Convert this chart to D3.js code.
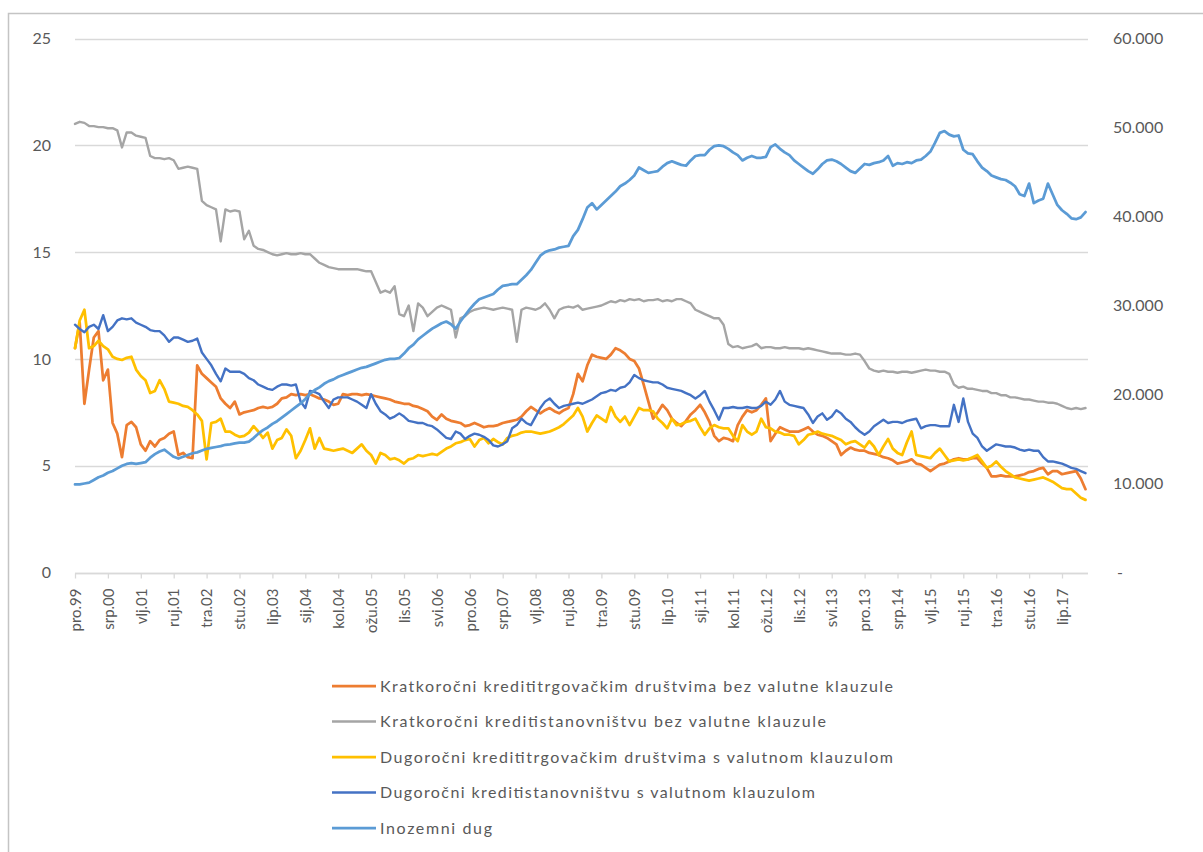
<!DOCTYPE html>
<html>
<head>
<meta charset="utf-8">
<script src="https://cdn.jsdelivr.net/npm/d3@7"></script>
<style>
body { margin: 0; background: #fff; }
svg text { font-family: Lato, "Open Sans", sans-serif; fill: #595959; }
</style>
</head>
<body>
<svg id="chart" width="1203" height="852"></svg>
<script>
// mjeseci (x os), prvi podatak pro.99, zadnji stu.17
var monthAbbr = ["sij", "vlj", "ožu", "tra", "svi", "lip", "srp", "kol", "ruj", "lis", "stu", "pro"];
var startYear = 1999, startMonth = 11, monthCount = 216, tickStep = 7;

var seriesNames = [
    "Kratkoročni kredititrgovačkim društvima bez valutne klauzule",
    "Kratkoročni kreditistanovništvu bez valutne klauzule",
    "Dugoročni kredititrgovačkim društvima s valutnom klauzulom",
    "Dugoročni kreditistanovništvu s valutnom klauzulom",
    "Inozemni dug"
];
var seriesColors = ["#ED7D31", "#A5A5A5", "#FFC000", "#4472C4", "#5B9BD5"];

var kratkoTrg = [
    10.5, 11.7, 7.9, 9.5, 11.0, 11.3, 9.0, 9.5, 7.0, 6.5,
    5.4, 6.9, 7.05, 6.8, 6.0, 5.7, 6.15, 5.9, 6.2, 6.3,
    6.5, 6.6, 5.5, 5.6, 5.4, 5.35, 9.7, 9.3, 9.1, 8.9,
    8.7, 8.15, 7.9, 7.7, 8.0, 7.4, 7.5, 7.55, 7.6, 7.7,
    7.75, 7.7, 7.75, 7.9, 8.15, 8.2, 8.35, 8.3, 8.35, 8.3,
    8.35, 8.25, 8.15, 8.1, 8.0, 7.85, 7.9, 8.35, 8.3, 8.35,
    8.35, 8.3, 8.35, 8.3, 8.25, 8.2, 8.15, 8.1, 8.0, 7.95,
    7.9, 7.9, 7.8, 7.75, 7.65, 7.55, 7.3, 7.15, 7.4, 7.2,
    7.1, 7.05, 7.0, 6.85, 6.9, 7.0, 6.9, 6.8, 6.85, 6.85,
    6.9, 7.0, 7.05, 7.1, 7.15, 7.3, 7.55, 7.75, 7.6, 7.45,
    7.6, 7.7, 7.55, 7.45, 7.6, 7.7, 8.35, 9.3, 8.95, 9.7,
    10.2, 10.1, 10.05, 10.0, 10.2, 10.5, 10.4, 10.25, 10.0, 9.9,
    9.55, 8.8, 8.0, 7.2, 7.5, 7.85, 7.6, 7.2, 7.0, 6.85,
    7.1, 7.4, 7.6, 7.85, 7.5, 7.05, 6.4, 6.15, 6.3, 6.25,
    6.15, 6.9, 7.3, 7.6, 7.5, 7.6, 7.85, 8.15, 6.15, 6.5,
    6.8, 6.7, 6.6, 6.6, 6.6, 6.7, 6.8, 6.6, 6.45, 6.4,
    6.3, 6.15, 6.0, 5.5, 5.7, 5.85, 5.75, 5.7, 5.7, 5.6,
    5.55, 5.5, 5.4, 5.35, 5.25, 5.1, 5.15, 5.2, 5.3, 5.1,
    5.05, 4.9, 4.75, 4.9, 5.05, 5.1, 5.2, 5.3, 5.35, 5.3,
    5.3, 5.35, 5.35, 5.1, 4.9, 4.5, 4.5, 4.55, 4.5, 4.5,
    4.5, 4.55, 4.6, 4.7, 4.75, 4.85, 4.9, 4.6, 4.75, 4.75,
    4.6, 4.65, 4.7, 4.75, 4.4, 3.9
];

var kratkoStan = [
    21.0, 21.1, 21.05, 20.9, 20.9, 20.85, 20.85, 20.8, 20.8, 20.7,
    19.9, 20.6, 20.6, 20.45, 20.4, 20.35, 19.5, 19.4, 19.4, 19.35,
    19.4, 19.3, 18.9, 18.95, 19.0, 18.95, 18.9, 17.4, 17.2, 17.1,
    17.0, 15.5, 17.0, 16.9, 16.95, 16.9, 15.6, 16.0, 15.3, 15.15,
    15.1, 15.0, 14.9, 14.85, 14.9, 14.95, 14.9, 14.9, 14.95, 14.9,
    14.9, 14.7, 14.5, 14.4, 14.3, 14.25, 14.2, 14.2, 14.2, 14.2,
    14.2, 14.15, 14.1, 14.1, 13.6, 13.1, 13.2, 13.1, 13.4, 12.1,
    12.0, 12.5, 11.3, 12.6, 12.4, 12.0, 12.2, 12.4, 12.5, 12.4,
    12.3, 11.0, 11.9, 12.0, 12.2, 12.3, 12.35, 12.4, 12.35, 12.3,
    12.35, 12.4, 12.35, 12.3, 10.8, 12.3, 12.4, 12.35, 12.3, 12.4,
    12.6, 12.3, 11.9, 12.3, 12.4, 12.45, 12.4, 12.5, 12.3, 12.35,
    12.4, 12.45, 12.5, 12.6, 12.7, 12.65, 12.75, 12.7, 12.8, 12.75,
    12.8, 12.7, 12.75, 12.75, 12.8, 12.7, 12.75, 12.7, 12.8, 12.8,
    12.7, 12.6, 12.3, 12.2, 12.1, 12.0, 11.9, 11.9, 11.6, 10.7,
    10.55, 10.6, 10.5, 10.55, 10.6, 10.7, 10.5, 10.55, 10.55, 10.5,
    10.5, 10.55, 10.5, 10.5, 10.5, 10.45, 10.5, 10.45, 10.4, 10.35,
    10.3, 10.25, 10.25, 10.25, 10.2, 10.2, 10.25, 10.2, 9.9, 9.55,
    9.45, 9.4, 9.45, 9.4, 9.4, 9.35, 9.4, 9.4, 9.35, 9.4,
    9.45, 9.5, 9.45, 9.45, 9.4, 9.4, 9.3, 8.8, 8.65, 8.7,
    8.6, 8.6, 8.55, 8.5, 8.5, 8.4, 8.4, 8.3, 8.3, 8.2,
    8.2, 8.15, 8.1, 8.1, 8.05, 8.0, 8.0, 7.95, 7.95, 7.9,
    7.8, 7.7, 7.65, 7.7, 7.65, 7.7
];

var dugoTrg = [
    10.5, 11.8, 12.3, 10.5, 10.6, 10.85, 10.6, 10.45, 10.1, 10.0,
    9.95, 10.05, 10.1, 9.5, 9.2, 9.0, 8.4, 8.5, 9.0, 8.6,
    8.0, 7.95, 7.9, 7.8, 7.75, 7.6, 7.4, 7.1, 5.3, 7.0,
    7.05, 7.2, 6.6, 6.6, 6.45, 6.35, 6.4, 6.55, 6.85, 6.6,
    6.3, 6.55, 5.8, 6.2, 6.3, 6.7, 6.4, 5.35, 5.7, 6.2,
    6.75, 5.8, 6.3, 5.8, 5.75, 5.7, 5.75, 5.8, 5.7, 5.6,
    5.8, 6.0, 5.7, 5.5, 5.1, 5.6, 5.5, 5.3, 5.35, 5.25,
    5.1, 5.3, 5.35, 5.5, 5.45, 5.5, 5.55, 5.5, 5.65, 5.8,
    5.9, 6.05, 6.1, 6.2, 6.25, 5.9, 6.2, 6.3, 6.05, 6.25,
    6.1, 6.0, 6.3, 6.4, 6.45, 6.55, 6.6, 6.6, 6.55, 6.5,
    6.55, 6.6, 6.7, 6.8, 6.95, 7.15, 7.35, 7.7, 7.3, 6.6,
    7.0, 7.35, 7.2, 7.05, 7.75, 7.3, 7.05, 7.3, 6.9, 7.3,
    7.7, 7.6, 7.6, 7.55, 7.2, 7.0, 6.75, 7.2, 6.9, 6.95,
    7.05, 7.1, 7.2, 6.8, 6.45, 6.75, 6.9, 6.8, 6.75, 6.75,
    6.4, 6.15, 6.9, 6.6, 6.45, 6.6, 7.2, 6.8, 6.75, 6.6,
    6.55, 6.45, 6.45, 6.4, 6.0, 6.2, 6.45, 6.5, 6.6, 6.5,
    6.45, 6.4, 6.3, 6.2, 6.0, 6.1, 6.15, 6.0, 5.85, 6.15,
    5.9, 5.5, 5.9, 6.25, 5.8, 5.6, 5.5, 6.1, 6.6, 5.5,
    5.45, 5.4, 5.35, 5.6, 5.8, 5.5, 5.2, 5.25, 5.3, 5.25,
    5.3, 5.4, 5.5, 5.2, 4.9, 5.0, 5.2, 4.95, 4.75, 4.6,
    4.45, 4.4, 4.35, 4.3, 4.35, 4.4, 4.45, 4.35, 4.25, 4.1,
    3.95, 3.9, 3.9, 3.7, 3.5, 3.4
];

var dugoStan = [
    11.6, 11.4, 11.25, 11.5, 11.6, 11.4, 12.05, 11.3, 11.5, 11.8,
    11.9, 11.85, 11.9, 11.7, 11.6, 11.5, 11.35, 11.3, 11.3, 11.1,
    10.8, 11.0, 11.0, 10.9, 10.8, 10.85, 10.95, 10.3, 10.0, 9.7,
    9.3, 8.95, 9.55, 9.4, 9.4, 9.4, 9.3, 9.1, 9.0, 8.8,
    8.7, 8.6, 8.55, 8.7, 8.8, 8.8, 8.75, 8.8, 8.0, 7.7,
    8.5, 8.45, 8.35, 8.0, 7.7, 8.1, 8.2, 8.2, 8.2, 8.1,
    8.0, 7.85, 7.7, 8.35, 7.9, 7.55, 7.4, 7.2, 7.3, 7.45,
    7.3, 7.1, 7.05, 7.0, 7.0, 6.9, 6.85, 6.7, 6.5, 6.3,
    6.25, 6.6, 6.5, 6.25, 6.4, 6.5, 6.45, 6.35, 6.2, 5.95,
    5.9, 6.0, 6.15, 6.75, 6.9, 7.2, 7.0, 6.9, 7.3, 7.7,
    8.0, 8.15, 7.9, 7.7, 7.8, 7.85, 7.9, 7.95, 7.9, 8.0,
    8.1, 8.25, 8.4, 8.45, 8.55, 8.5, 8.65, 8.7, 8.9, 9.25,
    9.1, 9.0, 8.95, 8.9, 8.9, 8.8, 8.65, 8.6, 8.55, 8.5,
    8.4, 8.3, 8.15, 8.3, 8.5, 8.0, 7.6, 7.15, 7.7, 7.7,
    7.75, 7.7, 7.7, 7.75, 7.7, 7.7, 7.8, 8.0, 7.85, 8.1,
    8.5, 8.0, 7.85, 7.8, 7.75, 7.7, 7.4, 7.0, 7.3, 7.45,
    7.15, 7.3, 7.6, 7.45, 7.2, 7.05, 6.8, 6.6, 6.45, 6.6,
    6.85, 7.0, 7.15, 7.0, 7.05, 7.05, 7.0, 7.1, 7.15, 7.2,
    6.75, 6.85, 6.9, 6.9, 6.85, 6.85, 6.85, 7.85, 7.05, 8.15,
    7.05, 6.5, 6.3, 5.9, 5.7, 5.85, 6.0, 5.95, 5.9, 5.9,
    5.85, 5.75, 5.7, 5.75, 5.7, 5.7, 5.4, 5.2, 5.2, 5.15,
    5.1, 5.0, 4.9, 4.85, 4.75, 4.65
];

// desna os
var inozemniDug = [
    9900, 9900, 10000, 10100, 10400, 10700, 10900, 11200, 11400, 11700,
    12000, 12200, 12300, 12200, 12300, 12400, 12900, 13300, 13600, 13800,
    13400, 13000, 12800, 13000, 13200, 13400, 13500, 13700, 13900, 14000,
    14100, 14200, 14350, 14400, 14500, 14600, 14600, 14700, 15100, 15600,
    16000, 16300, 16700, 17000, 17400, 17800, 18200, 18600, 19000, 19500,
    20100, 20500, 20800, 21200, 21500, 21700, 22000, 22200, 22400, 22600,
    22800, 23000, 23100, 23300, 23500, 23700, 23900, 24000, 24000, 24100,
    24600, 25200, 25600, 26200, 26600, 27000, 27400, 27700, 28000, 28200,
    27900, 27400, 28200, 28900, 29600, 30200, 30700, 30900, 31100, 31300,
    31800, 32200, 32300, 32400, 32400, 32900, 33400, 34000, 34800, 35600,
    36000, 36200, 36300, 36500, 36600, 36700, 37800, 38500, 39700, 41000,
    41500, 40800, 41300, 41800, 42300, 42800, 43400, 43700, 44100, 44600,
    45500, 45200, 44900, 45000, 45100, 45600, 46000, 46200, 46000, 45800,
    45700, 46300, 46800, 46900, 46900, 47500, 47900, 48000, 47900, 47600,
    47200, 46900, 46300, 46600, 46800, 46600, 46600, 46700, 47800, 48100,
    47600, 47200, 46900, 46300, 45900, 45500, 45100, 44800, 45300, 45900,
    46300, 46400, 46200, 45900, 45500, 45100, 44900, 45400, 45900, 45800,
    46000, 46100, 46300, 46800, 45700, 46000, 45900, 46100, 46000, 46300,
    46400, 46800, 47300, 48300, 49400, 49600, 49200, 49000, 49100, 47500,
    47100, 47000, 46200, 45500, 45100, 44600, 44400, 44200, 44100, 43800,
    43400, 42500, 42300, 43700, 41500, 41800, 42000, 43700, 42500, 41300,
    40700, 40300, 39800, 39700, 39900, 40500
];

var leftTicks = [0, 5, 10, 15, 20, 25];
var rightTicks = [0, 10000, 20000, 30000, 40000, 50000, 60000];

var categories = [];
for (var i = 0; i < monthCount; i++) {
    var m = (startMonth + i) % 12;
    var yr = startYear + Math.floor((startMonth + i) / 12);
    categories.push(monthAbbr[m] + "." + String(yr).slice(2));
}

var svg = d3.select("#chart");

// okvir grafikona
svg.append("rect")
    .attr("x", 8.5).attr("y", 13.5)
    .attr("width", 1300).attr("height", 1000)
    .attr("fill", "none")
    .attr("stroke", "#c4c4c4")
    .attr("stroke-width", 1.5);

var x = d3.scalePoint().domain(categories).range([75, 1085.5]);
var yLeft = d3.scaleLinear().domain([0, 25]).range([572.5, 38.5]);
var yRight = d3.scaleLinear().domain([0, 60000]).range([572.5, 38.5]);

var hr = d3.formatLocale({ decimal: ",", thousands: ".", grouping: [3], currency: ["", ""] });
var fmtRight = hr.format(",.0f");

// mreža
svg.append("g")
    .selectAll("line")
    .data(leftTicks)
    .enter()
    .append("line")
    .attr("x1", 75).attr("x2", 1088)
    .attr("y1", function(d) { return Math.round(yLeft(d)) + 0.5; })
    .attr("y2", function(d) { return Math.round(yLeft(d)) + 0.5; })
    .attr("stroke", "#d9d9d9")
    .attr("stroke-width", 1.3);

var leftAxis = svg.append("g")
    .attr("transform", "translate(75,0)")
    .call(d3.axisLeft(yLeft).tickValues(leftTicks).tickSize(0).tickPadding(24));
leftAxis.select(".domain").remove();
leftAxis.selectAll("text").style("font-size", "16px").style("fill", "#595959");

var rightAxis = svg.append("g")
    .attr("transform", "translate(1088,0)")
    .call(d3.axisRight(yRight).tickValues(rightTicks).tickSize(0).tickPadding(25)
        .tickFormat(function(d) { return d === 0 ? "-" : fmtRight(d); }));
rightAxis.select(".domain").remove();
rightAxis.selectAll("text").style("font-size", "16px").style("fill", "#595959")
    .attr("dx", function(d) { return d === 0 ? 4 : 0; });

var tickCats = categories.filter(function(d, i) { return i % tickStep === 0; });
var bottomAxis = svg.append("g")
    .attr("transform", "translate(0," + (Math.round(yLeft(0)) + 0.5) + ")")
    .call(d3.axisBottom(x).tickValues(tickCats).tickSize(5).tickSizeOuter(0));
bottomAxis.select(".domain").attr("stroke", "#d9d9d9").attr("stroke-width", 1.3)
    .attr("d", "M75,0H1088");
bottomAxis.selectAll(".tick line").attr("stroke", "#d9d9d9").attr("stroke-width", 1.3);
bottomAxis.selectAll("text")
    .attr("transform", "rotate(-90)")
    .attr("x", -15)
    .attr("y", 0)
    .attr("dy", "0.35em")
    .style("text-anchor", "end")
    .style("font-size", "15px")
    .style("fill", "#595959");

// linije
var leftSeries = [kratkoTrg, kratkoStan, dugoTrg, dugoStan];
var widths = [2.75, 2.4, 2.75, 2.4, 2.75];

var lineLeft = d3.line()
    .x(function(d, i) { return x(categories[i]); })
    .y(function(d) { return yLeft(d); });
var lineRight = d3.line()
    .x(function(d, i) { return x(categories[i]); })
    .y(function(d) { return yRight(d); });

leftSeries.forEach(function(s, k) {
    svg.append("path")
        .datum(s)
        .attr("fill", "none")
        .attr("stroke", seriesColors[k])
        .attr("stroke-width", widths[k])
        .attr("stroke-linejoin", "round")
        .attr("stroke-linecap", "round")
        .attr("d", lineLeft);
});

svg.append("path")
    .datum(inozemniDug)
    .attr("fill", "none")
    .attr("stroke", seriesColors[4])
    .attr("stroke-width", widths[4])
    .attr("stroke-linejoin", "round")
    .attr("stroke-linecap", "round")
    .attr("d", lineRight);

// legenda
var legendWidths = [513, 446, 513, 435, 112];
var legend = svg.append("g").attr("transform", "translate(332,686)");
var items = legend.selectAll("g")
    .data(seriesNames)
    .enter()
    .append("g")
    .attr("transform", function(d, i) { return "translate(0," + (i * 35.5) + ")"; });

items.append("line")
    .attr("x1", 0).attr("x2", 44)
    .attr("y1", 0).attr("y2", 0)
    .attr("stroke", function(d, i) { return seriesColors[i]; })
    .attr("stroke-width", function(d, i) { return widths[i]; });

items.append("text")
    .attr("x", 48)
    .attr("y", 0)
    .attr("dy", "0.35em")
    .attr("textLength", function(d, i) { return legendWidths[i]; })
    .attr("lengthAdjust", "spacing")
    .style("font-size", "16px")
    .text(function(d) { return d; });
</script>
</body>
</html>
